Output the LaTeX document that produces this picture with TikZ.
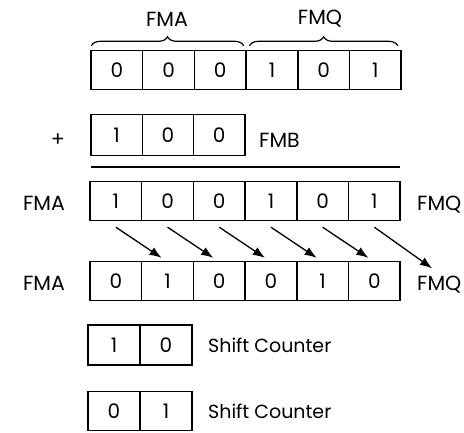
\documentclass[tikz,border=0pt]{standalone}
\usepackage{fontspec}
\setmainfont{Poppins}
\usetikzlibrary{positioning, arrows.meta, decorations.pathreplacing}

\begin{document}
\begin{tikzpicture}[x=1pt, y=-1pt, >={Latex[length=12pt,width=9pt]}] % coordinate in pixel, y verso il basso
    % Stili per celle, etichette e graffe
    \tikzset{
        cella/.style={
            draw=black,
            line width=1.4pt,
            minimum width=51.6pt,
            minimum height=39pt,
            inner sep=0pt,
            font=\fontsize{20}{20}\selectfont
        },
        etichetta/.style={
            inner sep=0pt,
            font=\fontsize{20.5}{20.5}\selectfont
        },
        graffa/.style={
            decorate,
            decoration={brace, amplitude=9pt},
            line width=1.2pt
        },
        freccia/.style={->, line width=1.3pt}
    }

    \useasboundingbox (0,0) rectangle (464,432);

    % --- Riga 1: FMA e FMQ ---
    \foreach \v [count=\i] in {0,0,0,1,0,1}
        \node[cella] (r1c\i) at ({91+51.7*(\i-0.5)},70) {\v};

    % Graffe sopra i registri
    \draw[graffa] ([xshift=1pt,yshift=4pt]r1c1.north west) -- ([xshift=-3pt,yshift=4pt]r1c3.north east);
    \draw[graffa] ([xshift=4pt,yshift=4pt]r1c4.north west) -- ([xshift=-4pt,yshift=4pt]r1c6.north east);
    \node[etichetta] (fma0) at (167,19) {FMA};
    \node[etichetta] (fmq0) at (320,19) {FMQ};

    % --- Riga 2: + FMB ---
    \foreach \v [count=\i] in {1,0,0}
        \node[cella, minimum width=51.3pt, minimum height=41pt] (r2c\i) at ({91+51.3*(\i-0.5)},135) {\v};
    \node[etichetta] (piu) at (58,140) {+};
    \node[etichetta, anchor=west] (fmb) at (259,140) {FMB};

    % Linea della somma
    \draw[line width=1.2pt] (91,167) -- (400,167);

    % --- Riga 3: risultato ---
    \foreach \v [count=\i] in {1,0,0,1,0,1}
        \node[cella] (r3c\i) at ({90+51.7*(\i-0.5)},201) {\v};
    \node[etichetta] (fmaa) at (44,203) {FMA};
    \node[etichetta, anchor=west] (fmqa) at (417,205) {FMQ};

    % --- Riga 4: dopo lo scorrimento ---
    \foreach \v [count=\i] in {0,1,0,0,1,0}
        \node[cella] (r4c\i) at ({90+51.7*(\i-0.5)},281) {\v};
    \node[etichetta] (fmab) at (44,283) {FMA};
    \node[etichetta, anchor=west] (fmqb) at (417,285) {FMQ};

    % Frecce di scorrimento
    \foreach \i [evaluate=\i as \j using int(\i+1)] in {1,...,5}
        \draw[freccia] ([yshift=-6pt]r3c\i.south) -- ([xshift=-6pt,yshift=3pt]r4c\j.north);
    \draw[freccia] ([yshift=-6pt]r3c6.south) -- ([xshift=15pt,yshift=8pt]fmqb.north west);

    % --- Righe 5 e 6: Shift Counter ---
    \foreach \v [count=\i] in {1,0}
        \node[cella, minimum width=52pt, minimum height=40pt] (r5c\i) at ({88+52*(\i-0.5)},345) {\v};
    \node[etichetta, anchor=west, font=\fontsize{19}{19}\selectfont] (sc1) at (208,345) {Shift Counter};

    \foreach \v [count=\i] in {0,1}
        \node[cella, minimum width=52pt] (r6c\i) at ({88+52*(\i-0.5)},411) {\v};
    \node[etichetta, anchor=west, font=\fontsize{19}{19}\selectfont] (sc2) at (208,411) {Shift Counter};

\end{tikzpicture}
\end{document}
